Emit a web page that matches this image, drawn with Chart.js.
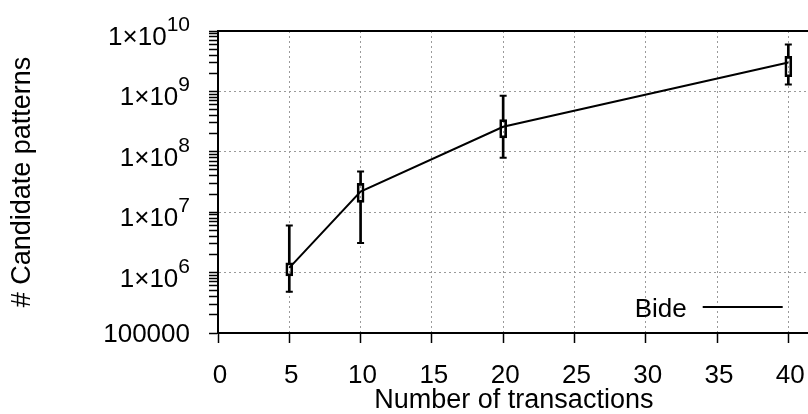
<!DOCTYPE html>
<html>
<head>
<meta charset="utf-8">
<script src="https://cdn.jsdelivr.net/npm/chart.js@4/dist/chart.umd.min.js"></script>
<style>
  html, body { margin: 0; padding: 0; overflow: hidden; background: #fff; }
  #wrap { width: 820px; height: 414px; }
</style>
</head>
<body>
<div id="wrap"><canvas id="chart" width="820" height="414"></canvas></div>
<script>
// values (log scale)
var xValues = [5, 10, 20, 40];
var midValues = [1.2e6, 2.2e7, 2.6e8, 3.0e9];
var boxLow = [8.8e5, 1.45e7, 1.7e8, 1.75e9];
var boxHigh = [1.45e6, 3.0e7, 3.4e8, 3.8e9];
var whiskerLow = [4.8e5, 3.1e6, 8.0e7, 1.3e9];
var whiskerHigh = [6.0e6, 4.7e7, 8.5e8, 6.0e9];

var xTicks = [0, 5, 10, 15, 20, 25, 30, 35, 40];
var yTicks = [1e5, 1e6, 1e7, 1e8, 1e9, 1e10];
var yTickText = ["100000", "1×10", "1×10", "1×10", "1×10", "1×10"];
var yTickPower = ["", "6", "7", "8", "9", "10"];
var seriesName = "Bide";

var FONT = '"Liberation Sans", Arial, Helvetica, sans-serif';
var GRID = "#9a9a9a";
var NONE = "rgba(0,0,0,0)";

function pts(ys) {
  return xValues.map(function (x, i) { return { x: x, y: ys[i] }; });
}
function range(lo, hi) {
  return xValues.map(function (x, i) { return { x: x, y: [lo[i], hi[i]] }; });
}

// frame, y tick labels with exponents, key
var extras = {
  id: "extras",
  afterDraw: function (chart) {
    var ctx = chart.ctx, a = chart.chartArea, ys = chart.scales.y;
    ctx.save();
    ctx.strokeStyle = "#000";
    ctx.lineWidth = 2;
    ctx.strokeRect(a.left, a.top, a.right - a.left, a.bottom - a.top);

    ctx.fillStyle = "#000";
    ctx.textAlign = "right";
    ctx.textBaseline = "alphabetic";
    var right = 190;
    for (var i = 0; i < yTicks.length; i++) {
      var py = ys.getPixelForValue(yTicks[i]);
      if (yTickPower[i] === "") {
        ctx.font = "26px " + FONT;
        ctx.fillText(yTickText[i], right, py + 9);
      } else {
        ctx.font = "21px " + FONT;
        var w = ctx.measureText(yTickPower[i]).width;
        ctx.fillText(yTickPower[i], right, py);
        ctx.font = "26px " + FONT;
        ctx.fillText(yTickText[i], right - w, py + 14);
      }
    }

    // key
    ctx.font = "26px " + FONT;
    ctx.fillText(chart.data.datasets[0].label, a.right - 123, a.bottom - 16);
    ctx.lineWidth = 2;
    ctx.beginPath();
    ctx.moveTo(a.right - 107, a.bottom - 26);
    ctx.lineTo(a.right - 27, a.bottom - 26);
    ctx.stroke();
    ctx.restore();
  }
};

new Chart(document.getElementById("chart"), {
  type: "scatter",
  data: {
    datasets: [
      {
        type: "line",
        label: seriesName,
        data: pts(midValues),
        borderColor: "#000",
        borderWidth: 2,
        pointRadius: 0,
        fill: false,
        tension: 0
      },
      {
        type: "bar",
        label: "box",
        data: range(boxLow, boxHigh),
        grouped: false,
        barThickness: 7,
        backgroundColor: NONE,
        borderColor: "#000",
        borderWidth: 2,
        borderSkipped: false
      },
      {
        type: "bar",
        label: "whisker low",
        data: range(whiskerLow, boxLow),
        grouped: false,
        barThickness: 2,
        backgroundColor: "#000",
        borderWidth: 0
      },
      {
        type: "bar",
        label: "whisker high",
        data: range(boxHigh, whiskerHigh),
        grouped: false,
        barThickness: 2,
        backgroundColor: "#000",
        borderWidth: 0
      },
      {
        type: "scatter",
        label: "caps",
        data: pts(whiskerLow).concat(pts(whiskerHigh)),
        pointStyle: "line",
        pointRadius: 3.5,
        pointBorderWidth: 2,
        borderColor: "#000",
        showLine: false
      }
    ]
  },
  options: {
    responsive: false,
    animation: false,
    events: [],
    layout: { padding: { top: 31, left: 0, right: 0, bottom: 0 } },
    plugins: { legend: { display: false }, tooltip: { enabled: false } },
    scales: {
      x: {
        type: "linear",
        position: "bottom",
        min: 0,
        max: 41.5,
        offset: false,
        afterBuildTicks: function (s) {
          s.ticks = xTicks.map(function (v) { return { value: v }; });
        },
        afterFit: function (s) { s.height = 81; },
        grid: {
          offset: false,
          color: function (c) { return c.tick && c.tick.value === 0 ? NONE : GRID; },
          lineWidth: 1,
          tickColor: "#000",
          tickLength: 10,
          tickWidth: 1.5
        },
        border: { color: "#000", width: 2, dash: [2, 3] },
        ticks: {
          color: "#000",
          font: { family: FONT, size: 26 },
          padding: 17,
          labelOffset: 2,
          maxRotation: 0,
          autoSkip: false
        },
        title: {
          display: true,
          text: "Number of transactions",
          color: "#000",
          font: { family: FONT, size: 27, lineHeight: 1 },
          padding: 0
        }
      },
      y: {
        type: "logarithmic",
        position: "left",
        min: 1e5,
        max: 1e10,
        afterBuildTicks: function (s) {
          var t = [];
          for (var i = 0; i < yTicks.length - 1; i++) {
            for (var m = 1; m <= 9; m++) t.push({ value: m * yTicks[i] });
          }
          t.push({ value: yTicks[yTicks.length - 1] });
          s.ticks = t;
        },
        afterFit: function (s) { s.width = 218; },
        grid: {
          color: function (c) {
            if (!c.tick) return NONE;
            var v = c.tick.value;
            if (v === yTicks[0] || v === yTicks[yTicks.length - 1]) return NONE;
            return yTicks.indexOf(v) >= 0 ? GRID : NONE;
          },
          lineWidth: 1,
          tickColor: "#000",
          tickLength: 9,
          tickWidth: 1.5
        },
        border: { color: "#000", width: 2, dash: [2, 3] },
        ticks: { display: false },
        title: {
          display: true,
          text: "# Candidate patterns",
          color: "#000",
          font: { family: FONT, size: 27, lineHeight: 1 },
          padding: { top: 9, bottom: 0 }
        }
      }
    }
  },
  plugins: [extras]
});
</script>
</body>
</html>
